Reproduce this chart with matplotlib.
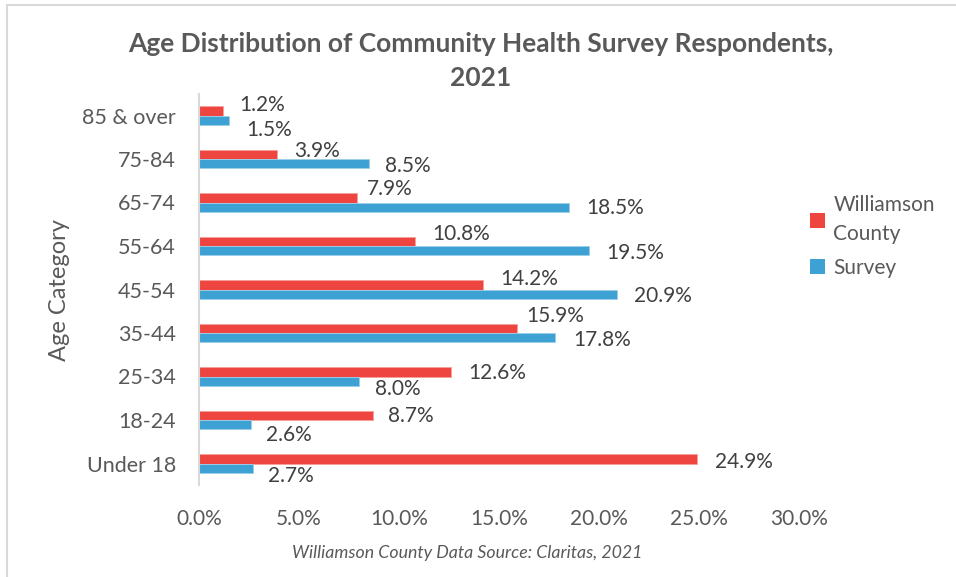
import matplotlib
matplotlib.use("Agg")
import matplotlib.pyplot as plt
from matplotlib.lines import Line2D
from matplotlib.patches import Patch
import numpy as np

plt.rcParams['font.family'] = ['Lato', 'DejaVu Sans']

categories = ['85 & over', '75-84', '65-74', '55-64', '45-54', '35-44', '25-34', '18-24', 'Under 18']
williamson = [1.2, 3.9, 7.9, 10.8, 14.2, 15.9, 12.6, 8.7, 24.9]
survey = [1.5, 8.5, 18.5, 19.5, 20.9, 17.8, 8.0, 2.6, 2.7]
series_names = ['Williamson\nCounty', 'Survey']
x_ticks = [0, 5, 10, 15, 20, 25, 30]
x_tick_labels = ['0.0%', '5.0%', '10.0%', '15.0%', '20.0%', '25.0%', '30.0%']
title = 'Age Distribution of Community Health Survey Respondents,\n2021'
y_title = 'Age Category'
caption = 'Williamson County Data Source: Claritas, 2021'

# label nudges (pixels): horizontal gap from bar end, vertical shift from bar centre (down +)
w_dx = [16, 17, 10, 17, 17, 9, 17, 15, 18]
w_dy = [-5.5, -3.5, -9, -7, -6, -12.5, 1, 1, 3]
s_dx = [17, 16, 17, 17, 17, 18, 16, 15, 15]
s_dy = [9.5, 2.5, 1, 2, 2, 2, 8, 10, 7.5]

RED = '#EF4540'
BLUE = '#3DA1D3'
TXT = '#595959'
LBL = '#404040'

W, H = 956, 577
fig = plt.figure(figsize=(W / 100, H / 100), dpi=100)
ax_left, ax_right, ax_top, ax_bottom = 199, 799, 93.75, 485.25
ax = fig.add_axes([ax_left / W, 1 - ax_bottom / H, (ax_right - ax_left) / W, (ax_bottom - ax_top) / H])

y = np.arange(len(categories))
h = 0.218
ax.barh(y - h / 2, williamson, height=h, color=RED, edgecolor='#F7A09C', linewidth=0.6)
ax.barh(y + h / 2, survey, height=h, color=BLUE, edgecolor='#9BD0EA', linewidth=0.6)

ax.set_xlim(0, 30)
ax.set_ylim(len(categories) - 0.5, -0.5)

for i in range(len(categories)):
    ax.annotate(f'{williamson[i]:.1f}%', xy=(williamson[i], y[i] - h / 2),
                xytext=(w_dx[i] * 0.72, -w_dy[i] * 0.72), textcoords='offset points',
                ha='left', va='center', fontsize=15, color=LBL)
    ax.annotate(f'{survey[i]:.1f}%', xy=(survey[i], y[i] + h / 2),
                xytext=(s_dx[i] * 0.72, -s_dy[i] * 0.72), textcoords='offset points',
                ha='left', va='center', fontsize=15, color=LBL)

ax.set_yticks(y)
ax.set_yticklabels(categories, fontsize=15.5, color=TXT)
ax.set_xticks(x_ticks)
ax.set_xticklabels(x_tick_labels, fontsize=15, color=TXT)
ax.tick_params(axis='x', length=0, pad=17)
ax.tick_params(axis='y', length=0, pad=16.5)
for s in ['top', 'right', 'bottom']:
    ax.spines[s].set_visible(False)
ax.spines['left'].set_color('#D9D9D9')
ax.spines['left'].set_linewidth(1.5)

fig.text(60 / W, 1 - 290 / H, y_title, rotation=90, ha='center', va='center', fontsize=17, color=TXT)
fig.text(481 / W, 1 - 61.5 / H, title, ha='center', va='center', fontsize=19, fontweight='bold',
         color=TXT, linespacing=1.5)
fig.text(467 / W, 1 - 553 / H, caption, ha='center', va='center', fontsize=12.8, style='italic', color=TXT)

handles = [Patch(facecolor=RED, edgecolor='none'), Patch(facecolor=BLUE, edgecolor='none')]
leg = fig.legend(handles, series_names, loc='upper left', bbox_to_anchor=(800 / W, 1 - 185 / H),
                 frameon=False, fontsize=15, labelcolor=TXT, handlelength=0.7, handleheight=0.7,
                 handletextpad=0.4, labelspacing=0.65, borderpad=0)
leg.get_texts()[0].set_linespacing(1.55)

# outer chart border (top and left visible)
fig.add_artist(Line2D([6.5 / W, 6.5 / W], [0, 1 - 4.5 / H], color='#D9D9D9', linewidth=1.5))
fig.add_artist(Line2D([6.5 / W, 1], [1 - 4.5 / H, 1 - 4.5 / H], color='#D9D9D9', linewidth=1.5))

fig.savefig('out.png', dpi=100, facecolor='white')
